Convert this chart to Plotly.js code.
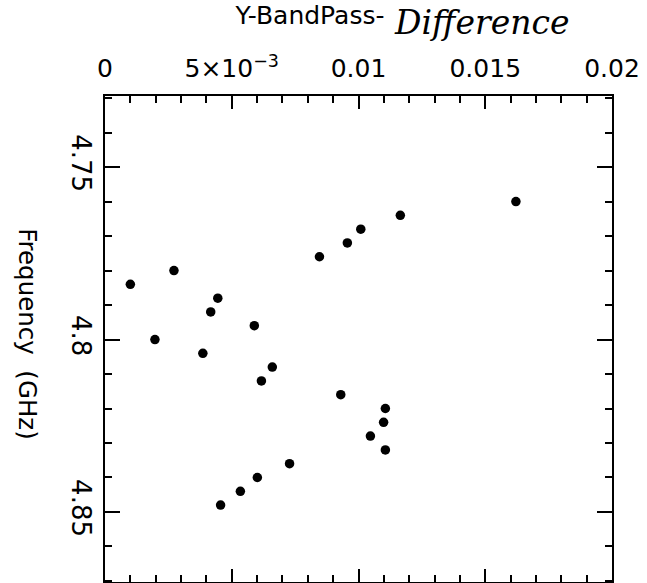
<!DOCTYPE html>
<html>
<head>
<meta charset="utf-8">
<script src="https://cdn.plot.ly/plotly-3.0.1.min.js"></script>
<style>html,body{margin:0;padding:0;background:#fff;}#chart{width:647px;height:583px;}</style>
</head>
<body>
<div id="chart"></div>
<script>
// Frequency (GHz) and Y-BandPass difference values
const frequency = [4.760, 4.764, 4.768, 4.772, 4.776, 4.780, 4.784, 4.788, 4.792, 4.796,
                   4.800, 4.804, 4.808, 4.812, 4.816, 4.820, 4.824, 4.828, 4.832, 4.836,
                   4.840, 4.844, 4.848];
const difference = [0.01621, 0.01165, 0.01009, 0.00956, 0.00846, 0.00272, 0.00100, 0.00445, 0.00417, 0.00589,
                    0.00197, 0.00386, 0.00660, 0.00617, 0.00930, 0.01106, 0.01099, 0.01047, 0.01106, 0.00728,
                    0.00601, 0.00534, 0.00456];
const xTickVals = [0, 0.005, 0.01, 0.015, 0.02];
const xTickText = ['0', '5×10<sup>−3</sup>', '0.01', '0.015', '0.02'];
const yTickVals = [4.75, 4.8, 4.85];
const yTickText = ['4.75', '4.8', '4.85'];

const FONT = 'DejaVu Sans, Arial, sans-serif';

const trace = {
  type: 'scatter',
  mode: 'markers',
  x: difference,
  y: frequency,
  marker: {color: '#000', size: 9.5},
  cliponaxis: false,
  hoverinfo: 'skip'
};

const layout = {
  width: 647, height: 583,
  margin: {l: 105, r: 35, t: 96, b: 1, pad: 0},
  paper_bgcolor: '#fff', plot_bgcolor: '#fff',
  showlegend: false,
  font: {family: FONT, color: '#000', size: 25},
  title: {
    text: 'Y-BandPass-',
    font: {family: FONT, size: 25, color: '#000'},
    xref: 'container', yref: 'container',
    x: 0.364, xanchor: 'left', y: 0.973, yanchor: 'middle'
  },
  xaxis: {
    side: 'top',
    range: [0, 0.02], autorange: false,
    tickmode: 'array', tickvals: xTickVals, ticktext: xTickText,
    ticks: 'inside', ticklen: 13, tickwidth: 2, tickcolor: '#000',
    minor: {dtick: 0.001, tick0: 0, ticks: 'inside', ticklen: 7, tickwidth: 2, tickcolor: '#000', showgrid: false},
    showline: true, linecolor: '#000', linewidth: 2, mirror: 'ticks',
    showgrid: false, zeroline: false,
    tickfont: {family: FONT, size: 25, color: '#000'},
    ticklabelstandoff: 7
  },
  yaxis: {
    range: [4.8703, 4.7294], autorange: false,
    tickmode: 'array', tickvals: yTickVals, ticktext: yTickText,
    ticks: 'inside', ticklen: 15, tickwidth: 2, tickcolor: '#000',
    minor: {dtick: 0.01, tick0: 4.75, ticks: 'inside', ticklen: 7, tickwidth: 2, tickcolor: '#000', showgrid: false},
    showline: true, linecolor: '#000', linewidth: 2, mirror: 'ticks',
    showgrid: false, zeroline: false,
    tickangle: 90,
    tickfont: {family: FONT, size: 26, color: '#000'},
    ticklabelstandoff: 0
  },
  annotations: [{
    text: 'Frequency\u00a0\u00a0(GHz)',
    xref: 'paper', yref: 'paper',
    x: -0.152, y: 0.51, xanchor: 'center', yanchor: 'middle',
    textangle: 90, showarrow: false,
    font: {family: FONT, size: 24.5, color: '#000'}
  }, {
    text: '<i>Difference</i>',
    xref: 'paper', yref: 'paper',
    x: 0.566, y: 1.152, xanchor: 'left', yanchor: 'middle',
    showarrow: false,
    font: {family: 'DejaVu Serif, serif', size: 33, color: '#000'}
  }]
};

Plotly.newPlot('chart', [trace], layout, {staticPlot: true, displayModeBar: false});
</script>
</body>
</html>
